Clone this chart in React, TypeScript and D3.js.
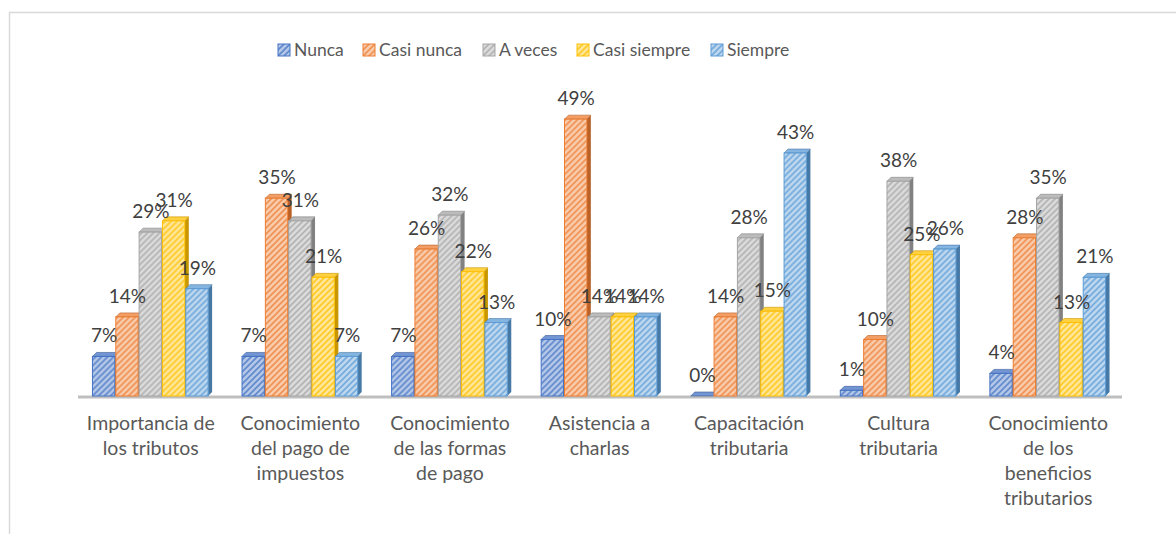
import React from 'react';
import * as d3 from 'd3';

const categories: string[][] = [
  ['Importancia de', 'los tributos'],
  ['Conocimiento', 'del pago de', 'impuestos'],
  ['Conocimiento', 'de las formas', 'de pago'],
  ['Asistencia a', 'charlas'],
  ['Capacitación', 'tributaria'],
  ['Cultura', 'tributaria'],
  ['Conocimiento', 'de los', 'beneficios', 'tributarios'],
];

const seriesNames = ['Nunca', 'Casi nunca', 'A veces', 'Casi siempre', 'Siempre'];
const seriesColors = ['#4472C4', '#ED7D31', '#A5A5A5', '#FFC000', '#5B9BD5'];

const nunca = [7, 7, 7, 10, 0, 1, 4];
const casiNunca = [14, 35, 26, 49, 14, 10, 28];
const aVeces = [29, 31, 32, 14, 28, 38, 35];
const casiSiempre = [31, 21, 22, 14, 15, 25, 13];
const siempre = [19, 7, 13, 14, 43, 26, 21];

const seriesValues = [nunca, casiNunca, aVeces, casiSiempre, siempre];

const W = 1176;
const H = 534;
const FONT = 'Lato, "Open Sans", sans-serif';
const DEPTH = 4;

const App: React.FC = () => {
  const keys = categories.map((c, i) => String(i));
  const x0 = d3.scaleBand<string>().domain(keys).range([76, 1123]).paddingInner(0.22).paddingOuter(0.11);
  const x1 = d3.scaleBand<number>().domain(d3.range(seriesNames.length)).range([0, x0.bandwidth()]);
  const y = d3.scaleLinear().domain([0, 50]).range([396, 113.5]);

  const bw = x1.bandwidth();
  const base = y(0);

  // legend layout
  const legendX = [278, 363, 483, 577, 711];

  return (
    <div style={{ position: 'absolute', left: 0, top: 0 }}>
      <svg width={W} height={H} style={{ display: 'block', background: '#fff' }}>
        <defs>
          {seriesColors.map((c, i) => {
            const light = d3.interpolateRgb(c, '#ffffff')(0.6);
            return (
              <pattern key={i} id={`hatch${i}`} patternUnits="userSpaceOnUse" width={6} height={6}>
                <rect width={6} height={6} fill={light} />
                <path d="M-1,1 l2,-2 M0,6 l6,-6 M5,7 l2,-2" stroke={c} strokeWidth={1.6} strokeOpacity={0.75} />
              </pattern>
            );
          })}
        </defs>

        {/* chart frame */}
        <rect x={9.5} y={12.5} width={1200} height={560} fill="none" stroke="#D9D9D9" strokeWidth={1.5} />

        {/* floor */}
        <path d={`M78,${base + 1} L1122,${base + 1}`} stroke="#BFBFBF" strokeWidth={3} />

        {/* legend */}
        {seriesNames.map((s, i) => (
          <g key={s} transform={`translate(${legendX[i]},50)`}>
            <rect x={0} y={-6} width={12} height={12} fill={`url(#hatch${i})`} stroke={seriesColors[i]} strokeWidth={1} />
            <text x={16} y={0} dy="0.35em" fontFamily={FONT} fontSize={17.5} fill="#595959">{s}</text>
          </g>
        ))}

        {/* bars */}
        {keys.map((k, ci) => (
          <g key={k} transform={`translate(${x0(k)},0)`}>
            {seriesValues.map((vals, si) => {
              const v = vals[ci];
              const bx = x1(si) as number;
              const top = y(v);
              const c = seriesColors[si];
              const dark = d3.color(c)!.darker(0.7).formatHex();
              const topC = d3.interpolateRgb(c, '#ffffff')(0.25);
              const fw = bw - 1;
              return (
                <g key={si}>
                  <path
                    d={`M${bx + fw},${top} L${bx + fw + DEPTH},${top - DEPTH} L${bx + fw + DEPTH},${base - DEPTH} L${bx + fw},${base} Z`}
                    fill={dark}
                  />
                  <path
                    d={`M${bx},${top} L${bx + DEPTH},${top - DEPTH} L${bx + fw + DEPTH},${top - DEPTH} L${bx + fw},${top} Z`}
                    fill={topC}
                    stroke={dark}
                    strokeWidth={0.6}
                  />
                  <rect x={bx} y={top} width={fw} height={base - top} fill={`url(#hatch${si})`} stroke={c} strokeWidth={1} />
                </g>
              );
            })}
            {seriesValues.map((vals, si) => {
              const v = vals[ci];
              const bx = x1(si) as number;
              return (
                <text
                  key={`l${si}`}
                  x={bx + bw / 2}
                  y={y(v) - 14}
                  textAnchor="middle"
                  fontFamily={FONT}
                  fontSize={19}
                  fill="#404040"
                >
                  {`${v}%`}
                </text>
              );
            })}
          </g>
        ))}

        {/* category labels */}
        {categories.map((lines, ci) => (
          <text
            key={ci}
            x={(x0(String(ci)) as number) + x0.bandwidth() / 2}
            y={430}
            textAnchor="middle"
            fontFamily={FONT}
            fontSize={19.5}
            fill="#595959"
          >
            {lines.map((ln, li) => (
              <tspan key={li} x={(x0(String(ci)) as number) + x0.bandwidth() / 2} dy={li === 0 ? 0 : 25}>
                {ln}
              </tspan>
            ))}
          </text>
        ))}
      </svg>
    </div>
  );
};

export default App;
